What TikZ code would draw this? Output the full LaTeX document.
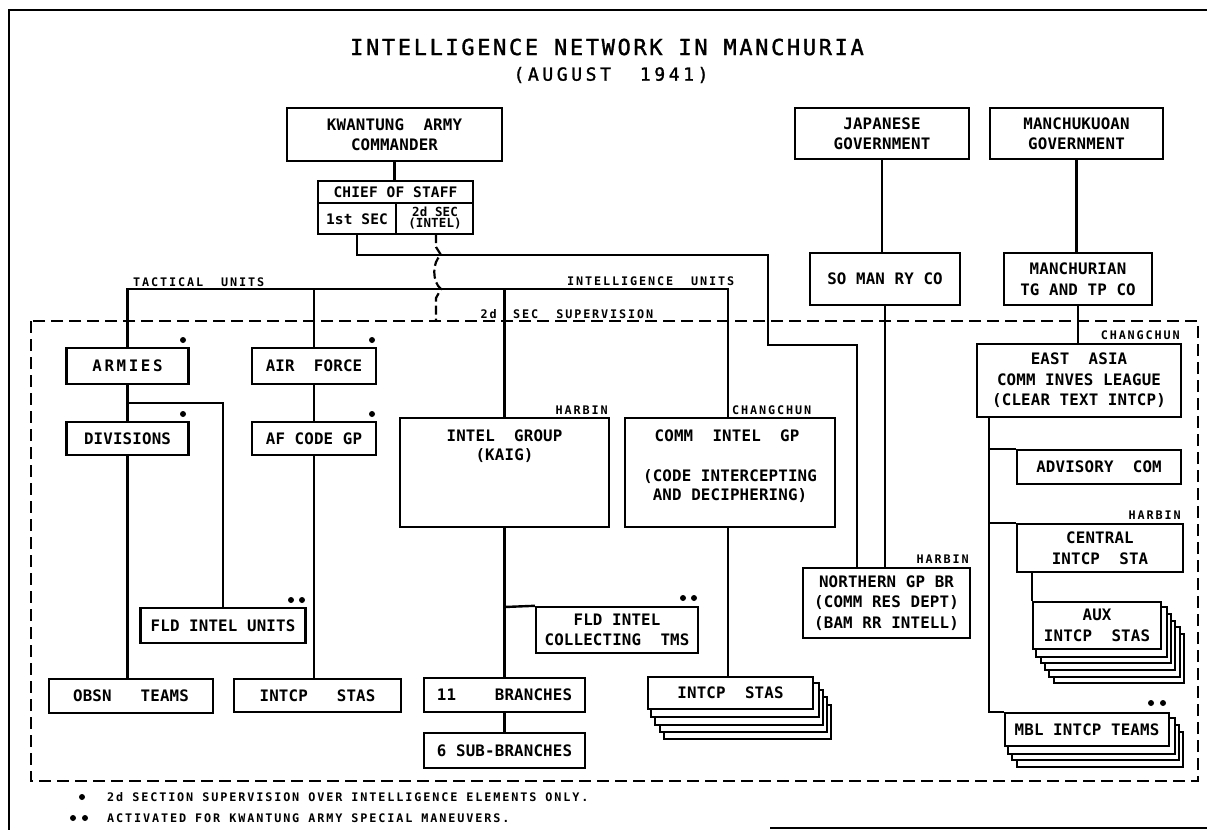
\documentclass[tikz,border=0pt]{standalone}
\usepackage{fontspec}
\usetikzlibrary{backgrounds,calc}
\newfontfamily\bxf[LetterSpace=1]{DejaVu Sans Mono Bold}
\newfontfamily\smf[LetterSpace=16]{DejaVu Sans Mono Bold}
\newfontfamily\ttlf[LetterSpace=12,FakeBold=1.5]{DejaVu Sans Mono}
\newfontfamily\subf[LetterSpace=20,FakeBold=1.5]{DejaVu Sans Mono}
\begin{document}
\begin{tikzpicture}[x=1pt,y=-1pt,
  bx/.style={draw,line width=2.4pt,fill=white,inner sep=0pt,align=center,
    font=\bxf\fontsize{15.8}{20.5}\selectfont},
  txt/.style={inner sep=0pt,align=center,font=\bxf\fontsize{15.8}{19}\selectfont},
  lbl/.style={inner sep=0pt,font=\smf\fontsize{11.8}{13}\selectfont},
  ln/.style={line width=2.4pt},
  supline/.style={line width=2.3pt,dash pattern=on 12pt off 6pt},
  dt/.style={circle,fill=black,inner sep=0pt,minimum size=6pt},
  shadowbox/.style={draw,line width=2pt,fill=white}]
\useasboundingbox (0,0) rectangle (1207,830);
% frame
\draw[line width=2.4pt] (1207,10) -- (9,10) -- (9,830);
\draw[line width=2pt] (770,828) -- (1207,828);
% title
\node[font=\ttlf\fontsize{22}{24}\selectfont,inner sep=0pt] (title) at (607,47) {INTELLIGENCE NETWORK IN MANCHURIA};
\node[font=\subf\fontsize{18}{20}\selectfont,inner sep=0pt] (subtitle) at (611,75) {(AUGUST\ \ 1941)};
% top boxes
\node[bx,minimum width=215pt,minimum height=53pt] (kac) at (394.5,134.5) {KWANTUNG\ \ ARMY\\COMMANDER};
\node[bx,minimum width=174pt,minimum height=51pt] (jap) at (882,133.5) {JAPANESE\\GOVERNMENT};
\node[bx,minimum width=173pt,minimum height=51pt] (mkg) at (1076.5,133.5) {MANCHUKUOAN\\GOVERNMENT};
% chief of staff
\node[bx,minimum width=155pt,minimum height=53pt] (cos) at (395.5,207.5) {};
\draw[line width=2.2pt] (318,203) -- (473,203);
\draw[line width=2.2pt] (396,203) -- (396,234);
\node[txt,font=\bxf\fontsize{14.5}{16}\selectfont] (cost) at (395.5,192) {CHIEF OF STAFF};
\node[txt,font=\bxf\fontsize{14.5}{16}\selectfont] (s1t) at (357,219) {1st SEC};
\node[txt,font=\bxf\fontsize{12.5}{10.5}\selectfont] (s2t) at (435,218) {2d SEC\\(INTEL)};
% second row right
\node[bx,minimum width=150pt,minimum height=52pt] (som) at (885,279) {SO\ MAN\ RY\ CO};
\node[bx,minimum width=148pt,minimum height=52pt] (mtg) at (1078,279) {MANCHURIAN\\TG AND TP CO};
% tactical
\node[bx,minimum width=122pt,minimum height=36pt] (armies) at (127.5,366) {A\,R\,M\,I\,E\,S};
\node[bx,minimum width=124pt,minimum height=36pt] (airf) at (314,366) {AIR\ \ FORCE};
\node[bx,minimum width=122pt,minimum height=33pt] (div) at (127.5,438.5) {DIVISIONS};
\node[bx,minimum width=124pt,minimum height=33pt] (afc) at (314,438.5) {AF\ CODE\ GP};
\node[bx,minimum width=165pt,minimum height=35pt] (fiu) at (223,625.5) {FLD INTEL UNITS};
\node[bx,minimum width=164pt,minimum height=34pt] (obsn) at (131,696) {OBSN\ \ \ TEAMS};
\node[bx,minimum width=167pt,minimum height=33pt] (isl) at (317.5,695.5) {INTCP\ \ \ STAS};
% intelligence
\node[bx,minimum width=209pt,minimum height=109pt] (ig) at (504.5,472.5) {};
\node[txt] (igt) at (504.5,446) {INTEL\ \ GROUP\\(KAIG)};
\node[bx,minimum width=210pt,minimum height=109pt] (cig) at (730,472.5) {};
\node[txt] (cigt1) at (727,436) {COMM\ \ INTEL\ \ GP};
\node[txt] (cigt2) at (730,486) {(CODE INTERCEPTING\\AND DECIPHERING)};
\node[bx,minimum width=162pt,minimum height=46pt] (fic) at (617,630) {FLD INTEL\\COLLECTING\ \ TMS};
\node[bx,minimum width=161pt,minimum height=34pt] (br11) at (504.5,695) {11\ \ \ \ BRANCHES};
\node[bx,minimum width=161pt,minimum height=35pt] (sub6) at (504.5,750.5) {6 SUB-BRANCHES};
\node[bx,minimum width=165pt,minimum height=32pt] (isc) at (730.5,693) {INTCP\ \ STAS};
% right column
\node[bx,minimum width=167pt,minimum height=70pt] (ngb) at (886.5,603) {NORTHERN GP BR\\(COMM RES DEPT)\\(BAM\ RR\ INTELL)};
\node[bx,minimum width=204pt,minimum height=73pt] (eal) at (1079,380.5) {EAST\ \ ASIA\\COMM INVES LEAGUE\\(CLEAR TEXT INTCP)};
\node[bx,minimum width=164pt,minimum height=34pt] (adv) at (1099,467) {ADVISORY\ \ COM};
\node[bx,minimum width=166pt,minimum height=48pt] (cis) at (1100,548) {CENTRAL\\INTCP\ \ STA};
\node[bx,minimum width=128pt,minimum height=47pt] (aux) at (1097,625.5) {AUX\\INTCP\ \ STAS};
\node[bx,minimum width=164pt,minimum height=33pt] (mbl) at (1087,729.5) {MBL INTCP TEAMS};
% stacked shadows
\begin{scope}[on background layer]
  \foreach \k in {5,4,3,2,1}
    \draw[shadowbox] ($(aux.north west)+(\k*4.4,\k*6.6)$) rectangle ($(aux.south east)+(\k*4.4,\k*6.6)$);
  \foreach \k in {4,3,2,1}
    \draw[shadowbox] ($(isc.north west)+(\k*4.3,\k*7.2)$) rectangle ($(isc.south east)+(\k*4.3,\k*7.2)$);
  \foreach \k in {3,2,1}
    \draw[shadowbox] ($(mbl.north west)+(\k*4.3,\k*6.6)$) rectangle ($(mbl.south east)+(\k*4.3,\k*6.6)$);
\end{scope}
% supervision boundary
\draw[supline] (31,321) rectangle (1198,781);
\node[lbl,anchor=base east] (sup2d) at (497,318) {2d};
\node[lbl,anchor=base west] (supsec) at (513,318) {SEC\ \ SUPERVISION};
% connectors
\draw[ln] (kac.south) -- (kac.south |- cos.north);
\coordinate (s1) at (357,234);
\coordinate (s1a) at (768,255);
\coordinate (s1b) at (857,345);
\draw[ln] (s1) |- (s1a) |- (s1b) -- (s1b |- ngb.north);
\draw[ln] (jap.south) -- (jap.south |- som.north);
\draw[ln] (som.south) -- (som.south |- ngb.north);
\draw[ln] (mkg.south) -- (mkg.south |- mtg.north);
\draw[ln] (mtg.south) -- (mtg.south |- eal.north);
\coordinate (tr) at (728,289);
\draw[ln] (armies.north) |- (tr) -- (tr |- cig.north);
\draw[ln] (airf.north) -- (airf.north |- tr);
\draw[ln] (ig.north) -- (ig.north |- tr);
\draw[ln] (armies.south) -- (div.north);
\coordinate (b1) at (127.5,403);
\draw[ln] (b1) -| (fiu.north);
\draw[ln] (div.south) -- (div.south |- obsn.north);
\draw[ln] (airf.south) -- (afc.north);
\draw[ln] (afc.south) -- (afc.south |- isl.north);
\draw[ln] (ig.south) -- (br11.north);
\coordinate (b2) at (504.5,607);
\draw[ln] (b2) -- (fic.north west);
\draw[ln] (br11.south) -- (sub6.north);
\coordinate (cb) at (728,527);
\draw[ln] (cb) -- (cb |- isc.north);
\coordinate (e0) at (989,417);
\draw[ln] (e0) |- (mbl.north west);
\draw[ln] (e0 |- adv.north) -- (adv.north west);
\draw[ln] (e0 |- cis.north) -- (cis.north west);
\draw[ln] (cis.south -| aux.west) -- (aux.north west);
% 2d sec dashed link
\coordinate (s2) at (436,234);
\coordinate (s2b) at (436,321);
\draw[line width=2.2pt,dash pattern=on 9pt off 4pt] (s2) -- (436,247) .. controls (438,251) .. (441,255) .. controls (432,262) and (432,282) .. (441,289) .. controls (438,293) .. (436,298) -- (s2b);
% labels
\node[lbl,anchor=base west] (tacl) at (133,286) {TACTICAL\ \ UNITS};
\node[lbl,anchor=base west] (intl) at (567,285) {INTELLIGENCE\ \ UNITS};
\node[lbl,anchor=base east] (harb1) at (608,414) {HARBIN};
\node[lbl,anchor=base west] (chg1) at (732,414) {CHANGCHUN};
\node[lbl,anchor=base east] (chg2) at (1180,339) {CHANGCHUN};
\node[lbl,anchor=base east] (harb2) at (1181,519) {HARBIN};
\node[lbl,anchor=base east] (harb3) at (969,563) {HARBIN};
% dots
\node[dt] (d1) at (183,340) {};
\node[dt] (d2) at (372,340) {};
\node[dt] (d3) at (183,414) {};
\node[dt] (d4) at (372,414) {};
\node[dt] (d5) at (291,600) {};
\node[dt] (d6) at (302,600) {};
\node[dt] (d7) at (683,598) {};
\node[dt] (d8) at (694,598) {};
\node[dt] (d9) at (1151,703) {};
\node[dt] (d10) at (1163,703) {};
% footnotes
\node[dt] (fd1) at (82,797) {};
\node[dt] (fd2) at (73,818) {};
\node[dt] (fd3) at (85,818) {};
\node[lbl,anchor=base west] (fn1) at (107,801) {2d SECTION SUPERVISION OVER INTELLIGENCE ELEMENTS ONLY.};
\node[lbl,anchor=base west] (fn2) at (107,822) {ACTIVATED FOR KWANTUNG ARMY SPECIAL MANEUVERS.};
\end{tikzpicture}
\end{document}
